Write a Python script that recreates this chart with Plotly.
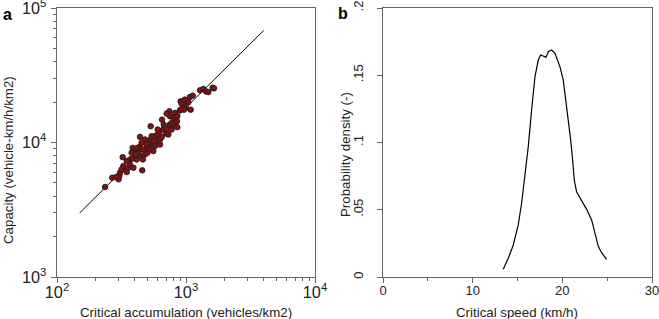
import plotly.graph_objects as go

# Panel a: critical accumulation (veh/km2) vs capacity (veh-km/h/km2)
accumulation = [236, 268, 304, 300, 308, 337, 327, 347, 357, 368, 323, 368, 386, 391, 458,
                415, 440, 427, 403, 386, 440, 467, 481, 463, 501, 519, 511, 532, 440, 481,
                542, 558, 575, 593, 585, 611, 629, 647, 622, 667, 700, 730, 708, 652, 532,
                751, 774, 822, 857, 798, 751, 743, 708, 822, 857, 898, 925, 953, 909, 982,
                1042, 1000, 1087, 964, 1074, 1127, 1285, 1362, 1429, 1489, 1610, 1648,
                408, 501, 526, 379, 453, 564, 603, 672, 347, 317, 290, 496, 629, 850, 925,
                774, 420, 542]
capacity = [4670, 5470, 5640, 5320, 5960, 6310, 6680, 6030, 6490, 6870, 7780, 7480, 7600, 6490, 6210,
            7480, 7920, 8380, 8870, 9120, 9290, 8870, 8150, 7480, 9120, 9660, 10230, 10520, 11010, 10520,
            9290, 8630, 9400, 10230, 11270, 11460, 10520, 11010, 12130, 12490, 11660, 11460, 12620, 14790, 13210,
            13580, 13990, 13370, 13000, 15240, 15670, 17060, 16400, 16600, 15670, 17380, 17740, 19100, 20230, 20840,
            19900, 18070, 17540, 17540, 21780, 22300, 24430, 25000, 23990, 23710, 25540, 25280,
            8150, 8380, 8870, 8380, 9950, 10230, 12490, 13580, 7280, 6310, 5570, 9660, 9660, 14380, 19450,
            12490, 9120, 11140]
fit_accumulation = [150, 4000]
fit_capacity = [3000, 68000]

# Panel b: density of critical speed
speed = [13.41, 13.97, 14.53, 15.08, 15.46, 15.76, 16.02, 16.2, 16.57, 16.95, 17.32, 17.58, 17.87,
         18.17, 18.43, 18.8, 19.18, 19.73, 20.1, 20.55, 20.93, 21.15, 21.33, 21.59, 22.15, 22.71,
         23.27, 23.63, 24.0, 24.38, 24.93]
density = [0.0057, 0.0139, 0.0238, 0.0387, 0.0548, 0.0721, 0.087, 0.0969, 0.124, 0.149, 0.1613, 0.165,
           0.1643, 0.1633, 0.1675, 0.1688, 0.1663, 0.1564, 0.1465, 0.124, 0.1019, 0.087, 0.0721, 0.0634,
           0.0573, 0.0503, 0.0424, 0.0337, 0.023, 0.0181, 0.0131]
b_yticks = [0, 0.05, 0.1, 0.15, 0.2]
b_yticklabels = ["0", ".05", ".1", ".15", ".2"]
b_xticks = [0, 10, 20, 30]

fig = go.Figure()
fig.add_trace(go.Scatter(x=fit_accumulation, y=fit_capacity, mode="lines",
                         line=dict(color="black", width=1), xaxis="x", yaxis="y", showlegend=False))
fig.add_trace(go.Scatter(x=accumulation, y=capacity, mode="markers",
                         marker=dict(size=5.5, color="#8a0f0f", line=dict(color="#222", width=1)),
                         xaxis="x", yaxis="y", showlegend=False))
fig.add_trace(go.Scatter(x=speed, y=density, mode="lines", line=dict(color="black", width=1.2),
                         xaxis="x2", yaxis="y2", showlegend=False))

axcol = "#666"
FONT = "Liberation Sans, Arial"
tickfont = dict(family=FONT, size=13, color="#222")
titlefont = dict(family=FONT, size=13.3, color="#222")
common = dict(showline=True, linecolor=axcol, linewidth=1, mirror=True, showgrid=False,
              zeroline=False, ticks="outside", ticklen=5, tickcolor=axcol, tickfont=tickfont,
              automargin=False, ticklabeloverflow="allow")

ML, MR, MT, MB = 57, 7, 8, 42
W, H = 659, 319
PW, PH = W - ML - MR, H - MT - MB


def px(x):
    return (x - ML) / PW


def py(y):
    return (H - MB - y) / PH


fig.update_layout(
    width=W, height=H, margin=dict(l=ML, r=MR, t=MT, b=MB, autoexpand=False),
    plot_bgcolor="white", paper_bgcolor="white",
    xaxis=dict(type="log", range=[2, 4], dtick=1, exponentformat="power", domain=[0, px(315)],
               anchor="y", ticklabelstandoff=-4,
               minor=dict(ticks="outside", ticklen=3, tickcolor=axcol, dtick="D1"), **common),
    yaxis=dict(type="log", range=[3, 5], dtick=1, exponentformat="power", domain=[0, 1],
               anchor="x", ticklabelstandoff=2,
               minor=dict(ticks="outside", ticklen=3, tickcolor=axcol, dtick="D1"), **common),
    xaxis2=dict(range=[0, 30], tickvals=b_xticks, domain=[px(383), 1.0], anchor="y2",
                ticklabelstandoff=-4,
                minor=dict(ticks="outside", ticklen=3, tickcolor=axcol, dtick=5), **common),
    yaxis2=dict(range=[0, 0.2], tickvals=b_yticks, ticktext=b_yticklabels, tickangle=-90,
                domain=[0, 1], anchor="x2", ticklabelstandoff=9, **common),
)

titles = [
    ("Critical accumulation (vehicles/km2)", 186, 312, 0),
    ("Critical speed (km/h)", 517, 312, 0),
    ("Capacity (vehicle-km/h/km2)", 8, 160, -90),
    ("Probability density (-)", 345, 155, -90),
]
for text, x, y, ang in titles:
    fig.add_annotation(text=text, x=px(x), y=py(y), xref="paper", yref="paper", showarrow=False,
                       xanchor="center", yanchor="middle", textangle=ang, font=titlefont)

for letter, x, y in [("a", 1, 4), ("b", 336, 3)]:
    fig.add_annotation(text="<b>%s</b>" % letter, x=px(x), y=py(y), xref="paper", yref="paper",
                       showarrow=False, xanchor="left", yanchor="top",
                       font=dict(family=FONT, size=16, color="black"))

fig.write_html("out.html", config={"displayModeBar": False},
               post_script="document.body.style.margin='0';document.body.style.overflow='hidden';")
